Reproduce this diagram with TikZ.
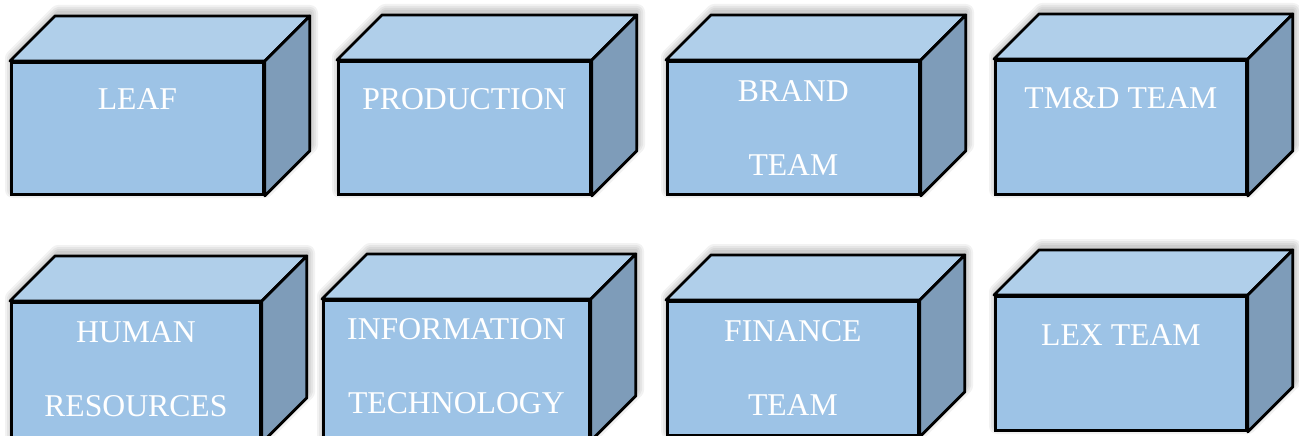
\documentclass[tikz,border=0pt]{standalone}
\usepackage{fontspec}
\setmainfont{Liberation Serif}
\usepackage{tikz}
\definecolor{frontblue}{RGB}{157,195,230}
\definecolor{topblue}{RGB}{176,207,234}
\definecolor{sideblue}{RGB}{126,156,185}
\tikzset{
	front face/.style={draw,line width=2.8pt,fill=frontblue,rectangle,inner sep=0pt,anchor=north west},
	top face/.style={draw,line width=2.8pt,fill=topblue,line join=round},
	side face/.style={draw,line width=2.8pt,fill=sideblue,line join=round},
	shadow ring/.style={black,opacity=0.05,line join=round},
	box text/.style={text=white,font=\fontsize{31.7}{73.5}\selectfont,align=center,inner sep=0pt,anchor=base}
}
% #1 name, #2 x, #3 y (top left of front), #4 width, #5 height, #6 offset of last baseline, #7 text
\newcommand\deptbox[7]{
	\begin{scope}[shift={(#2,#3)}]
	\foreach \w in {16,12,8,4}
		\draw[shadow ring,line width=\w pt] (3,#5-3) -- (3,-3) -- (48,-48) -- (#4+48,-48) -- (#4+48,#5-48) -- (#4+3,#5-3) -- cycle;
	\node[front face,minimum width=#4pt,minimum height=#5pt] (#1) at (0,0) {};
	\draw[top face] (#1.north west) -- ++(45,-45) -- ([shift={(45,-45)}]#1.north east) -- (#1.north east) -- cycle;
	\draw[side face] (#1.north east) -- ++(45,-45) -- ([shift={(45,-45)}]#1.south east) -- (#1.south east) -- cycle;
	\node[box text] (#1-text) at ([yshift=-#6pt]#1.north) {#7};
	\end{scope}
}
\begin{document}
\begin{tikzpicture}[x=1pt,y=-1pt]
	\clip (0,0) rectangle (1299,436);
	\fill[white] (0,0) rectangle (1299,436);
	% top row
	\deptbox{leaf}{10}{61}{252}{132}{49}{LEAF}
	\deptbox{production}{337}{60}{252}{133}{50}{PRODUCTION}
	\deptbox{brand}{666}{60}{252}{133}{115}{BRAND\\TEAM}
	\deptbox{tmd}{994}{59}{251}{134}{50}{TM\&D TEAM}
	% bottom row
	\deptbox{hr}{10}{301}{249}{139}{115}{HUMAN\\RESOURCES}
	\deptbox{it}{322}{299}{266}{139}{114}{INFORMATION\\TECHNOLOGY}
	\deptbox{finance}{666}{300}{251}{134}{115}{FINANCE\\TEAM}
	\deptbox{lex}{994}{295}{251}{134}{50}{LEX TEAM}
\end{tikzpicture}
\end{document}
